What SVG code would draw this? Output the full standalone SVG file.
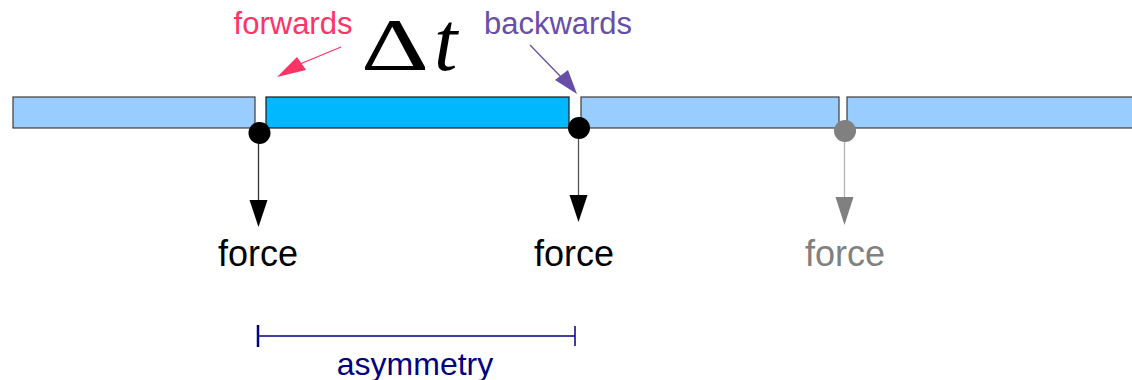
<svg xmlns="http://www.w3.org/2000/svg" width="1132" height="380" viewBox="0 0 1132 380">
<style>
.bar{fill:#99ccff;stroke:#3c3c3c;stroke-width:1.2}
.cur{fill:#00b8ff;stroke:#1a1a1a;stroke-width:1.2}
.lbl{font-family:"Liberation Sans",Arial,sans-serif;font-size:34px;text-anchor:middle}
.math{font-family:"Liberation Serif","DejaVu Serif",serif;fill:#000}
</style>
<g id="bars">
<rect id="seg1" class="bar" x="13" y="97" width="242" height="31"/>
<rect id="seg2" class="cur" x="266" y="97" width="303" height="31"/>
<rect id="seg3" class="bar" x="581" y="97" width="258" height="31"/>
<rect id="seg4" class="bar" x="847" y="97" width="290" height="31"/>
</g>
<g id="connectors">
<line x1="258.5" y1="134" x2="258.5" y2="200" stroke="#333" stroke-width="1.3"/>
<path d="M249.5,200 L267.5,200 L258.5,227 Z" fill="#000"/>
<line x1="578.5" y1="130" x2="578.5" y2="196" stroke="#555" stroke-width="1.3"/>
<path d="M569.5,195 L587.5,195 L578.5,222 Z" fill="#000"/>
<line x1="844.5" y1="132" x2="844.5" y2="198" stroke="#b3b3b3" stroke-width="1.3"/>
<path d="M835.5,197 L853.5,197 L844.5,225 Z" fill="#808080"/>
<line x1="341" y1="47" x2="300" y2="64" stroke="#ff3366" stroke-width="1.3"/>
<path d="M277,77 L297,57 L306,70 Z" fill="#ff3366"/>
<line x1="530" y1="45" x2="562" y2="78" stroke="#674ea7" stroke-width="1.3"/>
<path d="M577,94 L555,80 L568,70 Z" fill="#674ea7"/>
</g>
<g id="dots">
<circle cx="259.5" cy="133" r="11" fill="#000"/>
<circle cx="579" cy="128" r="11" fill="#000"/>
<circle cx="845" cy="131" r="11" fill="#808080"/>
</g>
<g id="labels">
<text class="lbl" x="293" y="34" style="font-size:31px" fill="#ff3366">forwards</text>
<text class="lbl" x="558" y="34" style="font-size:31px" fill="#674ea7">backwards</text>
<text class="math" x="361" y="70" font-size="74" textLength="68" lengthAdjust="spacingAndGlyphs">Δ</text>
<text class="math" x="434" y="70" font-size="84" font-style="italic">t</text>
<text class="lbl" x="258" y="266" style="font-size:36px" fill="#000">force</text>
<text class="lbl" x="574" y="266" style="font-size:36px" fill="#000">force</text>
<text class="lbl" x="845" y="266" style="font-size:36px" fill="#808080">force</text>
</g>
<g id="asymmetry">
<line x1="258" y1="336" x2="575" y2="336" stroke="#000080" stroke-width="1.5"/>
<line x1="258" y1="325" x2="258" y2="347" stroke="#000080" stroke-width="2.5"/>
<line x1="575" y1="326" x2="575" y2="346" stroke="#000080" stroke-width="1.5"/>
<text class="lbl" x="415" y="375" style="font-size:32px" fill="#000080">asymmetry</text>
</g>
</svg>
